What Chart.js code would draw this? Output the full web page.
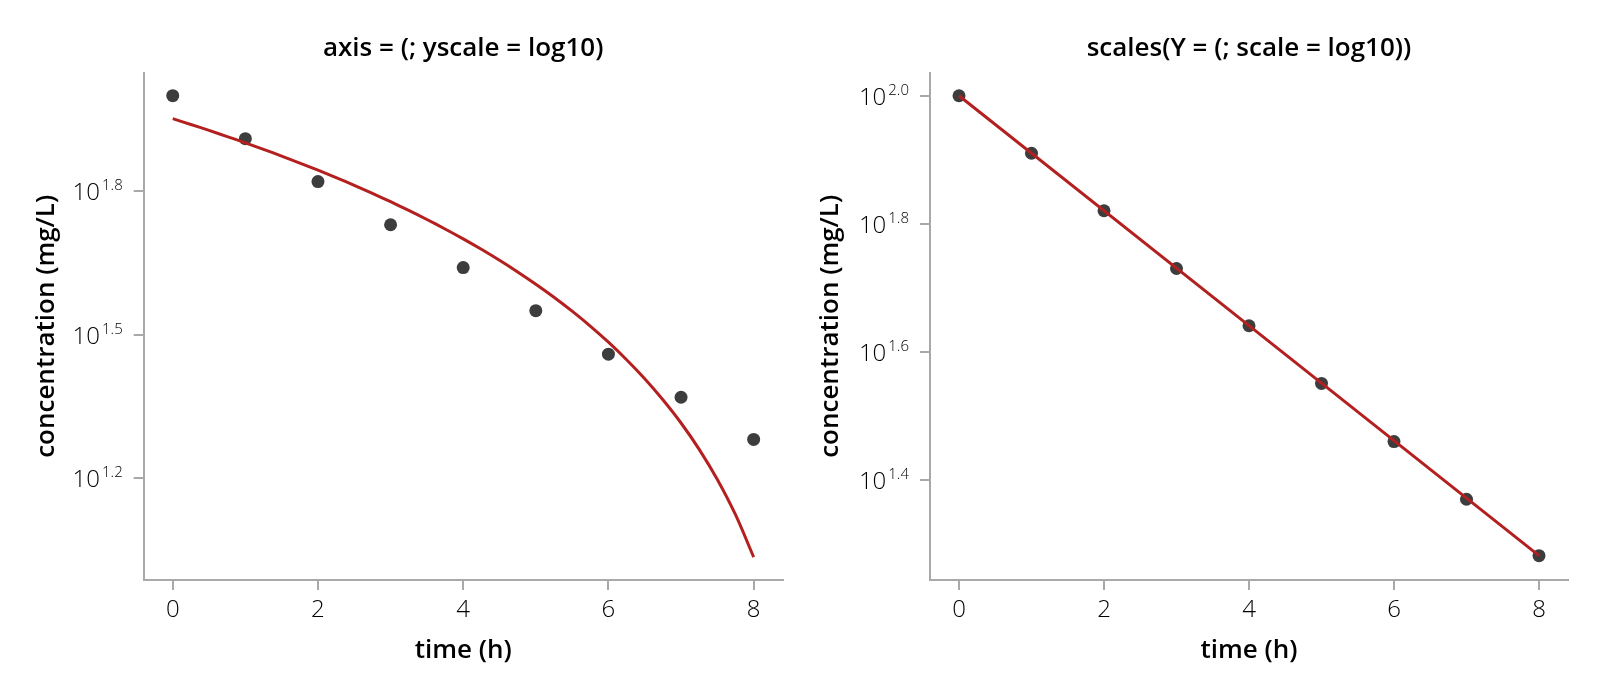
<!DOCTYPE html>
<html>
<head>
<meta charset="utf-8">
<script src="https://cdn.jsdelivr.net/npm/chart.js@4.4.1/dist/chart.umd.min.js"></script>
<style>
  body { margin: 0; background: #fff; }
  #wrap { position: relative; width: 1600px; height: 700px; }
  canvas { position: absolute; top: 0; }
</style>
</head>
<body>
<div id="wrap">
  <canvas id="left" width="800" height="700" style="left:0"></canvas>
  <canvas id="right" width="800" height="700" style="left:800px"></canvas>
</div>
<script>
var times = [0, 1, 2, 3, 4, 5, 6, 7, 8];
var concentration = [100, 81.3, 66.1, 53.7, 43.7, 35.5, 28.8, 23.4, 19.1];

// linear fit on the raw concentrations (left panel)
var fitTimes = [0, 0.25, 0.5, 0.75, 1, 1.25, 1.5, 1.75, 2, 2.25, 2.5, 2.75, 3, 3.25, 3.5, 3.75,
  4, 4.25, 4.5, 4.75, 5, 5.25, 5.5, 5.75, 6, 6.25, 6.5, 6.75, 7, 7.25, 7.5, 7.75, 8];
var linearFit = [89.5, 87.04, 84.58, 82.12, 79.67, 77.21, 74.75, 72.29, 69.83, 67.38, 64.92, 62.46,
  60.0, 57.54, 55.08, 52.62, 50.17, 47.71, 45.25, 42.79, 40.33, 37.88, 35.42, 32.96, 30.5, 28.04,
  25.58, 23.12, 20.67, 18.21, 15.75, 13.29, 10.84];

// fit on the log scale (right panel)
var logFitTimes = [0, 8];
var logFit = [100, 19.1];

var xTicks = [0, 2, 4, 6, 8];
var leftExponents = ["1.2", "1.5", "1.8"];
var rightExponents = ["1.4", "1.6", "1.8", "2.0"];

var fontFamily = "'Open Sans', 'Noto Sans', sans-serif";
var axisGray = "#a9a9a9";
var pointColor = "#3d3d3d";
var lineColor = "#b3201f";

function pairs(xs, ys) {
  return xs.map(function (x, i) { return { x: x, y: ys[i] }; });
}

// 10^e tick labels and the panel title
var decorations = {
  id: "decorations",
  afterDraw: function (chart, args, opts) {
    var ctx = chart.ctx, area = chart.chartArea, y = chart.scales.y;
    ctx.save();
    ctx.fillStyle = "#000";
    ctx.textBaseline = "alphabetic";
    ctx.textAlign = "right";
    opts.exponents.forEach(function (e) {
      var py = y.getPixelForValue(Math.pow(10, parseFloat(e)));
      var right = area.left - 21;
      ctx.font = "300 15px " + fontFamily;
      var w = ctx.measureText(e).width;
      ctx.fillText(e, right, py - 1);
      ctx.font = "300 24px " + fontFamily;
      ctx.fillText("10", right - w - 2, py + 9);
    });
    ctx.font = "600 26px " + fontFamily;
    ctx.textAlign = "center";
    ctx.textBaseline = "middle";
    ctx.fillText(opts.title, (area.left + area.right) / 2, 49);
    ctx.restore();
  }
};

function makePanel(id, p) {
  var gridOpts = {
    display: true,
    drawOnChartArea: false,
    drawTicks: true,
    tickLength: 10,
    color: axisGray,
    lineWidth: 2
  };
  return new Chart(document.getElementById(id), {
    type: "scatter",
    data: {
      datasets: [
        {
          data: p.line,
          showLine: true,
          borderColor: lineColor,
          borderWidth: 3,
          pointRadius: 0,
          tension: 0.3,
          order: 0
        },
        {
          data: pairs(times, concentration),
          backgroundColor: pointColor,
          pointRadius: 6.5,
          pointBorderWidth: 0,
          order: 1
        }
      ]
    },
    options: {
      responsive: false,
      animation: false,
      layout: { padding: { top: 72.7, right: p.rightPad, bottom: 0, left: 0 } },
      plugins: {
        legend: { display: false },
        tooltip: { enabled: false },
        decorations: { exponents: p.exponents, title: p.title }
      },
      scales: {
        x: {
          type: "linear",
          min: -0.4,
          max: 8.4,
          afterBuildTicks: function (s) {
            s.ticks = xTicks.map(function (v) { return { value: v }; });
          },
          afterFit: function (s) { s.height = 120; },
          grid: gridOpts,
          border: { color: axisGray, width: 2 },
          ticks: {
            color: "#000",
            padding: 6,
            maxRotation: 0,
            autoSkip: false,
            font: { family: fontFamily, size: 24, weight: 300 }
          },
          title: {
            display: true,
            text: "time (h)",
            color: "#000",
            font: { family: fontFamily, size: 26, weight: 600 },
            padding: { top: 0, bottom: 33.4 }
          }
        },
        y: {
          type: "logarithmic",
          min: Math.pow(10, p.yMin),
          max: Math.pow(10, p.yMax),
          afterBuildTicks: function (s) {
            s.ticks = p.exponents.map(function (e) {
              return { value: Math.pow(10, parseFloat(e)) };
            });
          },
          afterFit: function (s) { s.width = p.yWidth; },
          grid: gridOpts,
          border: { color: axisGray, width: 2 },
          ticks: { display: false },
          title: {
            display: true,
            text: "concentration (mg/L)",
            color: "#000",
            font: { family: fontFamily, size: 26, weight: 600 },
            padding: { top: p.yTitlePad, bottom: 0 }
          }
        }
      }
    },
    plugins: [decorations]
  });
}

makePanel("left", {
  title: "axis = (; yscale = log10)",
  line: pairs(fitTimes, linearFit),
  exponents: leftExponents,
  yMin: 0.987,
  yMax: 2.048,
  yWidth: 143.7,
  rightPad: 17.3,
  yTitlePad: 31.4
});

makePanel("right", {
  title: "scales(Y = (; scale = log10))",
  line: pairs(logFitTimes, logFit),
  exponents: rightExponents,
  yMin: 1.243,
  yMax: 2.036,
  yWidth: 130,
  rightPad: 32,
  yTitlePad: 15.4
});
</script>
</body>
</html>
